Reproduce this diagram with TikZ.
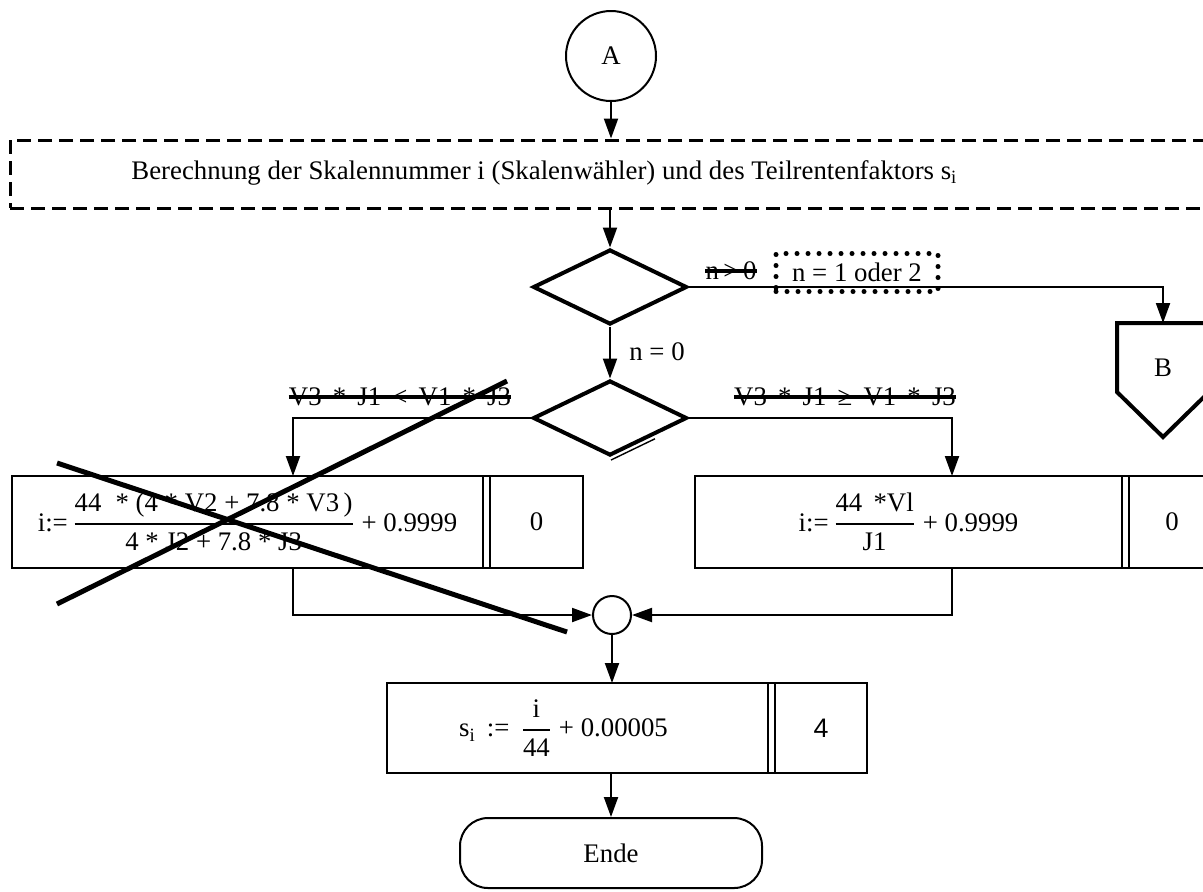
\documentclass[tikz,border=0pt]{standalone}
\usepackage{amsmath}
\usepackage{fontspec}
\setmainfont{Liberation Serif}
\newfontfamily\sansf{Liberation Sans}
\usetikzlibrary{shapes.geometric,arrows.meta,calc}
\newcommand{\myfr}[2]{$\genfrac{}{}{1pt}{0}{\text{#1}}{\text{#2}}$}
\begin{document}
\begin{tikzpicture}[x=0.5pt,y=-0.5pt,
  font=\fontsize{13.4}{16}\selectfont,
  thinl/.style={line width=1pt},
  arr/.style={line width=1pt,-{Triangle[length=10pt,width=7pt]}},
  cell/.style={draw,line width=1pt,outer sep=0pt,inner sep=0pt},
  dia/.style={draw,diamond,line width=2pt,inner sep=0pt,minimum width=77pt,minimum height=37.5pt},
  strike/.style={line width=2pt},
  cross/.style={line width=2.5pt},
  lab/.style={inner sep=0pt},
]
\useasboundingbox (0,0) rectangle (1203,891);
\clip (0,0) rectangle (1203,891);

% start connector
\node[draw,circle,line width=1pt,minimum size=45pt,inner sep=0pt] (A) at (611,56) {A};

% dashed process box
\node[draw,line width=1.5pt,dash pattern=on 7pt off 3.5pt,minimum width=602.5pt,minimum height=34pt,inner sep=0pt] (proc) at (612.5,174) {};
\node[lab,anchor=west] (proctext) at (131,173) {Berechnung der Skalennummer i (Skalenwähler) und des Teilrentenfaktors s\textsubscript{i}};

% decisions
\node[dia] (d1) at (610,287) {};
\node[dia] (d2) at (610,418) {};
\draw[line width=0.7pt] ($($(d2.east)!0.45!(d2.south)$)+(1.5,3)$) -- ($(d2.south)+(1,2.5)$);

% off-page connector B
\node (B) at (1163,368) {B};
\coordinate (Btop) at (1163,323);
\draw[line width=2pt] ($(Btop)+(-46,0)$) -- ($(Btop)+(46,0)$) -- ($(Btop)+(46,69)$) -- ($(Btop)+(0,114)$) -- ($(Btop)+(-46,69)$) -- cycle;

% process boxes
\node[cell,minimum width=235.5pt,minimum height=46pt] (b1) at (247.5,522)
  {i:=\,\myfr{44 \;* (4 * V2 + 7.8 * V3\,)}{4 * J2 + 7.8 * J3} + 0.9999};
\node[cell,minimum width=46.5pt,minimum height=46pt] (b1s) at (536.5,522) {0};
\draw[thinl] (b1.north east) -- (b1s.north west) (b1.south east) -- (b1s.south west);

\node[cell,minimum width=213.5pt,minimum height=46pt] (b2) at (908.5,522)
  {i:=\,\myfr{44 \,*Vl}{J1} + 0.9999};
\node[cell,minimum width=43pt,minimum height=46pt] (b2s) at (1172,522) {0};
\draw[thinl] (b2.north east) -- (b2s.north west) (b2.south east) -- (b2s.south west);

\node[cell,minimum width=190.5pt,minimum height=45pt] (b3) at (577.5,728)
  {s\textsubscript{i} \,:=\, \myfr{\,i\,}{44} + 0.00005\kern14pt};
\node[cell,minimum width=46pt,minimum height=45pt] (b3s) at (821,728) {\sansf 4};
\draw[thinl] (b3.north east) -- (b3s.north west) (b3.south east) -- (b3s.south west);

% merge and end
\node[draw,circle,minimum size=19pt,inner sep=0pt,line width=1pt] (m) at (612,615) {};
\node[draw,rounded corners=14pt,line width=1pt,minimum width=151pt,minimum height=35pt] (ende) at (611,853) {Ende};

\coordinate (b1in) at (293,476);
\coordinate (b1out) at (293,568);
\coordinate (b2in) at (952,476);
\coordinate (b2out) at (952,568);

% connectors
\draw[arr] (A.south) -- (A.south |- proc.north);
\draw[arr] (d1.north |- proc.south) -- (d1.north);
\draw[arr] (d1.east) -| (Btop);
\draw[arr] (d1.south) -- (d2.north);
\draw[arr] (d2.west) -| (b1in);
\draw[arr] (d2.east) -| (b2in);
\draw[arr] (b1out) |- (m.west);
\draw[arr] (b2out) |- (m.east);
\draw[arr] (m.south) -- (m.south |- b3.north);
\draw[arr] (ende.north |- b3.south) -- (ende.north);

% labels
\node[lab] (n0) at (657,352) {n = 0};
\node[lab] (ngt) at (731,271) {n\,>\,0};
\draw[strike] (ngt.west) -- (ngt.east);
\node[draw,line width=2.5pt,dash pattern=on 0pt off 5.5pt,line cap=round,minimum width=81pt,minimum height=19pt,inner sep=0pt] (n12) at (857,272.5) {n = 1 oder 2};
\node[lab] (lc) at (400,397) {V3 \,*\, J1 \,<\, V1 \,*\, J3};
\draw[strike] (lc.west) -- (lc.east);
\node[lab] (rc) at (845,397) {V3 \,*\, J1 \,≥\, V1 \,*\, J3};
\draw[strike] (rc.west) -- (rc.east);

% crossing-out lines
\draw[cross] (57,463) -- (567,632);
\draw[cross] (57,604) -- (507,381);
\end{tikzpicture}
\end{document}
